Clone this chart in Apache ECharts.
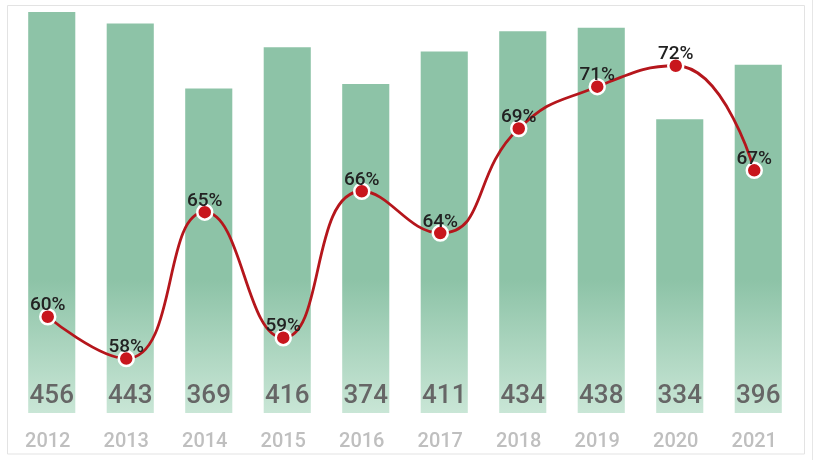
<!DOCTYPE html>
<html>
<head>
<meta charset="utf-8">
<script src="https://cdn.jsdelivr.net/npm/echarts@6/dist/echarts.min.js"></script>
<style>
html,body{margin:0;padding:0;background:#fff;}
#main{width:819px;height:460px;}
</style>
</head>
<body>
<div id="main"></div>
<script>
const years = ['2012','2013','2014','2015','2016','2017','2018','2019','2020','2021'];
const counts = [456, 443, 369, 416, 374, 411, 434, 438, 334, 396];
const rates = [60, 58, 65, 59, 66, 64, 69, 71, 72, 67];

const chart = echarts.init(document.getElementById('main'));
chart.setOption({
  animation: false,
  backgroundColor: '#fff',
  textStyle: { fontFamily: 'Roboto' },
  graphic: [
    { type: 'rect', shape: { x: 7.5, y: 5.5, width: 797, height: 448.5 }, style: { fill: 'none', stroke: '#e3e3e3', lineWidth: 1 }, z: -10 },
    { type: 'line', shape: { x1: 812.5, y1: 0, x2: 812.5, y2: 460 }, style: { stroke: '#e6e6e6', lineWidth: 1 }, z: -10 }
  ],
  grid: [
    { left: 8.5, right: 25.5, top: 12, bottom: 47 },
    { left: 12.5, right: 21.5, top: 12, bottom: 47 }
  ],
  xAxis: [
    { type: 'category', gridIndex: 0, data: years, axisLine: { show: false }, axisTick: { show: false },
      axisLabel: { color: '#bfbfbf', fontSize: 20, fontWeight: 500, margin: 19, fontFamily: 'Roboto' } },
    { type: 'category', gridIndex: 1, data: years, show: false }
  ],
  yAxis: [
    { type: 'value', gridIndex: 0, min: 55.4, max: 74.57, show: false, splitLine: { show: false } },
    { type: 'value', gridIndex: 1, min: 0, max: 456, show: false, splitLine: { show: false } }
  ],
  series: [
    {
      type: 'bar', xAxisIndex: 1, yAxisIndex: 1, data: counts, barWidth: '60%',
      itemStyle: {
        color: { type: 'linear', x: 0, y: 280, x2: 0, y2: 413, global: true,
          colorStops: [ { offset: 0, color: '#8dc3a7' }, { offset: 1, color: '#c9e6d6' } ] }
      },
      label: { show: true, position: 'insideBottom', distance: 4, color: '#666', fontSize: 26, fontWeight: 500, fontFamily: 'Roboto' }
    },
    {
      type: 'line', xAxisIndex: 0, yAxisIndex: 0, data: rates, smooth: true, z: 5,
      symbol: 'circle', symbolSize: 15,
      lineStyle: { color: '#b5161c', width: 2.8 },
      itemStyle: { color: '#c8161d', borderColor: '#fff', borderWidth: 2.5 },
      label: { show: true, position: 'top', distance: 0, offset: [0, 7], formatter: '{c}%', color: '#222', fontSize: 19, fontWeight: 500, fontFamily: 'Roboto' }
    }
  ]
});
</script>
</body>
</html>
